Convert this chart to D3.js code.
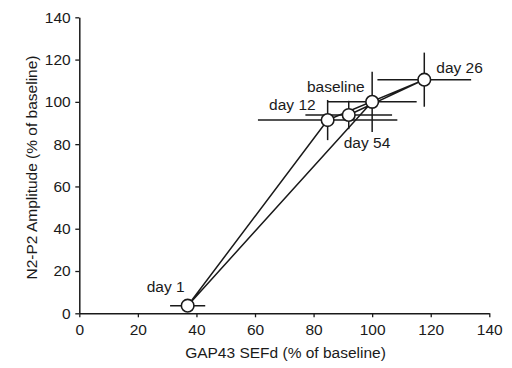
<!DOCTYPE html>
<html>
<head>
<meta charset="utf-8">
<script src="https://cdn.jsdelivr.net/npm/d3@7"></script>
<style>
  html, body { margin: 0; padding: 0; background: #fff; }
  svg { display: block; }
  text { font-family: "Liberation Sans", Arial, sans-serif; fill: #1a1a1a; }
</style>
</head>
<body>
<svg id="chart" width="512" height="368"></svg>
<script>
// Time points in recording order (the connecting path follows this order)
const labels = ["baseline", "day 1", "day 12", "day 26", "day 54"];
// GAP43 SEFd (% of baseline) and its error
const sefd    = [100, 37, 84.8, 117.8, 92];
const sefdErr = [15.2, 6, 23.8, 16, 14.8];
// N2-P2 amplitude (% of baseline) and its error
const amp     = [100, 3.6, 91.4, 110.5, 93.8];
const ampErr  = [14.2, 1.5, 9.5, 12.8, 6.7];

const xTicks = [0, 20, 40, 60, 80, 100, 120, 140];
const yTicks = [0, 20, 40, 60, 80, 100, 120, 140];

const xTitle = "GAP43 SEFd (% of baseline)";
const yTitle = "N2-P2 Amplitude (% of baseline)";

const points = labels.map((l, i) => ({
  label: l, x: sefd[i], y: amp[i], ex: sefdErr[i], ey: ampErr[i]
}));

const svg = d3.select("#chart");
const ink = "#1a1a1a";
const fontSize = "15.5px";

const x = d3.scaleLinear().domain([0, 140]).range([79.3, 489.3]);
const y = d3.scaleLinear().domain([0, 140]).range([313.3, 17.3]);

// Axes
const gx = svg.append("g")
  .attr("transform", `translate(0,${y(0)})`)
  .call(d3.axisBottom(x).tickValues(xTicks).tickFormat(d3.format("d"))
    .tickSize(4).tickSizeOuter(0).tickPadding(7));
const gy = svg.append("g")
  .attr("transform", `translate(${x(0)},0)`)
  .call(d3.axisLeft(y).tickValues(yTicks).tickFormat(d3.format("d"))
    .tickSize(4).tickSizeOuter(0).tickPadding(4.6));

[gx, gy].forEach(g => {
  g.select(".domain").attr("stroke", ink).attr("stroke-width", 1.5);
  g.selectAll(".tick line").attr("stroke", ink).attr("stroke-width", 1.3);
  g.selectAll(".tick text")
    .attr("fill", ink)
    .style("font-size", fontSize)
    .style("font-family", "'Liberation Sans', Arial, sans-serif");
});

// Axis titles
svg.append("text")
  .attr("x", 285.5).attr("y", 358.3)
  .attr("text-anchor", "middle")
  .style("font-size", fontSize)
  .text(xTitle);

svg.append("text")
  .attr("transform", "translate(36.7,167.5) rotate(-90)")
  .attr("text-anchor", "middle")
  .style("font-size", fontSize)
  .text(yTitle);

// Connecting path through the time points
const line = d3.line().x(d => x(d.x)).y(d => y(d.y));
svg.append("path")
  .datum(points)
  .attr("d", line)
  .attr("fill", "none")
  .attr("stroke", ink)
  .attr("stroke-width", 1.5)
  .attr("stroke-linejoin", "round");

// Horizontal and vertical error bars
const err = svg.append("g").attr("stroke", ink).attr("stroke-width", 1.5);
err.selectAll("line.ex").data(points).join("line")
  .attr("class", "ex")
  .attr("x1", d => x(d.x - d.ex)).attr("x2", d => x(d.x + d.ex))
  .attr("y1", d => y(d.y)).attr("y2", d => y(d.y));
err.selectAll("line.ey").data(points).join("line")
  .attr("class", "ey")
  .attr("x1", d => x(d.x)).attr("x2", d => x(d.x))
  .attr("y1", d => y(d.y - d.ey)).attr("y2", d => y(d.y + d.ey));

// Markers
svg.selectAll("circle.pt").data(points).join("circle")
  .attr("class", "pt")
  .attr("cx", d => x(d.x)).attr("cy", d => y(d.y))
  .attr("r", 6.3)
  .attr("fill", "#fff")
  .attr("stroke", ink)
  .attr("stroke-width", 1.6);

// Point labels, placed beside each marker
const place = {
  "baseline": { anchor: "end",   dx: -7.5, dy: -9.7 },
  "day 1":    { anchor: "end",   dx: -3,   dy: -14 },
  "day 12":   { anchor: "end",   dx: -12,  dy: -10 },
  "day 26":   { anchor: "start", dx: 12,   dy: -7 },
  "day 54":   { anchor: "start", dx: -5,   dy: 33 }
};
svg.selectAll("text.lbl").data(points).join("text")
  .attr("class", "lbl")
  .attr("x", d => x(d.x) + place[d.label].dx)
  .attr("y", d => y(d.y) + place[d.label].dy)
  .attr("text-anchor", d => place[d.label].anchor)
  .style("font-size", fontSize)
  .text(d => d.label);
</script>
</body>
</html>
